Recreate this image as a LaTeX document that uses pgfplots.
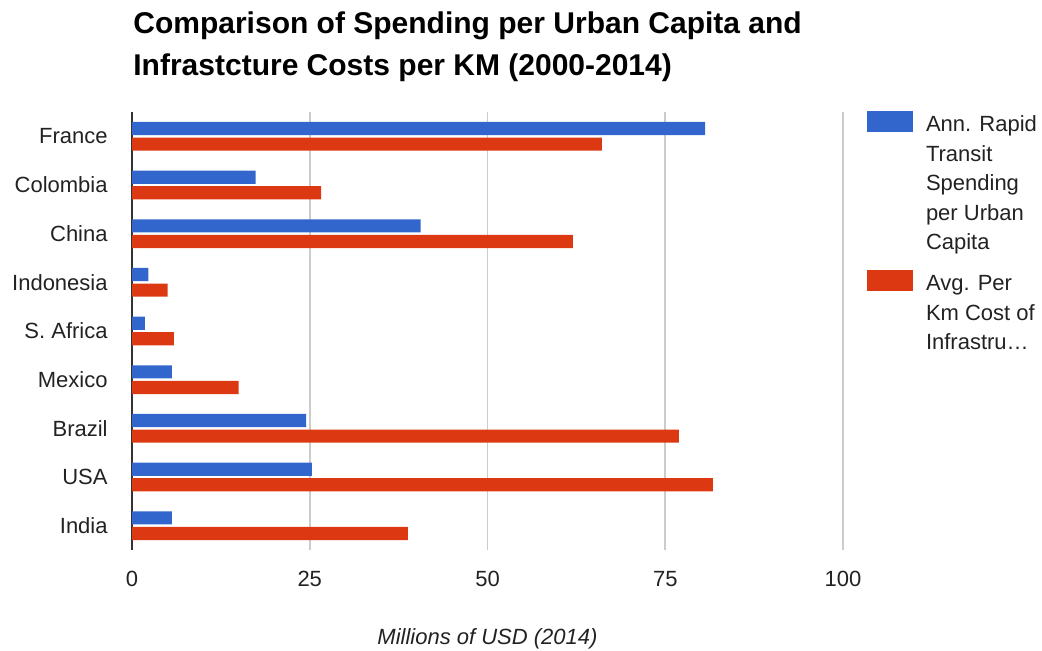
\documentclass[border=0pt]{standalone}
\usepackage{pgfplots}
\usepackage{pgfplotstable}
\pgfplotsset{compat=1.18}
\usepackage{fontspec}
\setmainfont{Liberation Sans}
\definecolor{gblue}{HTML}{3366CC}
\definecolor{gred}{HTML}{DC3912}
\definecolor{ggrid}{HTML}{CCCCCC}
\definecolor{gtext}{HTML}{222222}
\definecolor{gaxis}{HTML}{333333}

\pgfplotstableread{
y spend cost
0 80.6 66.1
1 17.4 26.6
2 40.6 62.0
3 2.3 5.0
4 1.8 5.9
5 5.6 15.0
6 24.5 76.9
7 25.3 81.7
8 5.6 38.8
}\datatable

\begin{document}
\begin{tikzpicture}
\useasboundingbox (0,0) rectangle (521pt,325pt);
\begin{axis}[
  name=ax,
  at={(66pt,50pt)}, anchor=south west,
  scale only axis, width=355.5pt, height=219pt,
  xbar, bar width=6.6pt,
  xmin=0, xmax=100, ymin=-0.5, ymax=8.5, y dir=reverse,
  xtick={25,50,75,100},
  extra x ticks={0},
  extra x tick style={grid style={gaxis, line width=1pt}},
  ytick={0,...,8},
  yticklabels={France,Colombia,China,Indonesia,S. Africa,Mexico,Brazil,USA,India},
  axis line style={draw=none},
  major tick length=0pt,
  xmajorgrids, grid style={ggrid, line width=0.8pt},
  /pgf/number format/assume math mode=true,
  tick label style={font=\fontsize{11}{13}\selectfont, text=gtext, inner sep=0pt},
  yticklabel shift=12pt,
  xticklabel shift=10.5pt,
  xlabel={Millions of USD (2014)},
  xlabel style={font=\fontsize{11}{13}\selectfont\itshape, text=gtext, at={(axis description cs:0.5,0)}, anchor=north, yshift=-39pt, inner sep=0pt},
  legend style={at={(axis description cs:1,1)}, anchor=north west, xshift=12pt, yshift=2.5pt, draw=none, fill=none, inner sep=0pt, outer sep=0pt, row sep=63.6pt, font=\fontsize{11}{14.75}\selectfont, text=gtext, cells={anchor=base west, inner sep=0pt}, /tikz/every odd column/.append style={column sep=4.5pt}},
]
\addplot[fill=gblue, draw=none, bar shift=3.9pt, legend image code/.code={\fill[gblue] (0pt,0pt) rectangle (23pt,10.5pt);}] table[x=spend,y=y]{\datatable};
\addlegendentry{\begin{tabular}[t]{@{}l@{}}Ann. Rapid\\Transit\\Spending\\per Urban\\Capita\end{tabular}}
\addplot[fill=gred, draw=none, bar shift=-3.9pt, legend image code/.code={\fill[gred] (0pt,0pt) rectangle (23pt,10.5pt);}] table[x=cost,y=y]{\datatable};
\addlegendentry{\begin{tabular}[t]{@{}l@{}}Avg. Per\\Km Cost of\\Infrastru…\end{tabular}}
\end{axis}
\node[anchor=base west, font=\fontsize{15}{21}\selectfont\bfseries, inner sep=0pt] at ([xshift=0.5pt,yshift=39.5pt]ax.north west) {Comparison of Spending per Urban Capita and};
\node[anchor=base west, font=\fontsize{15}{21}\selectfont\bfseries, inner sep=0pt] at ([xshift=0.5pt,yshift=18.5pt]ax.north west) {Infrastcture Costs per KM (2000-2014)};
\end{tikzpicture}
\end{document}
